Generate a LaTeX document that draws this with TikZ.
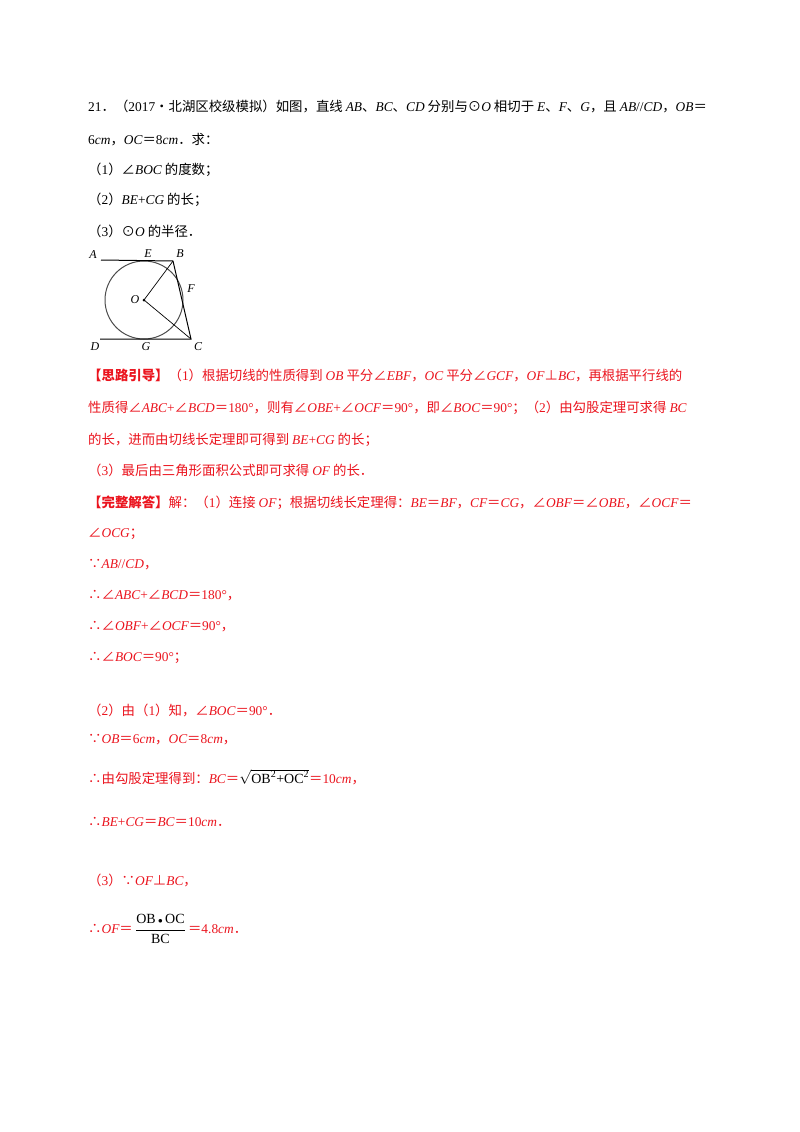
\documentclass[tikz,border=0pt]{standalone}
\usepackage{fontspec}
\setmainfont{Noto Sans CJK SC}
\newfontfamily\lser{Liberation Serif}
\newcommand\vv[1]{{\lser\itshape #1}}
\newcommand\nn[1]{{\lser #1}}
\newcommand\mm[1]{\text{\lser\fontsize{14}{16}\selectfont #1}}
\newcommand\ms[1]{\text{\lser\fontsize{10}{12}\selectfont #1}}
\usepackage{amsmath}
\definecolor{myred}{RGB}{235,20,30}
\begin{document}
\begin{tikzpicture}[x=1pt,y=-1pt,
  t/.style={anchor=west,inner sep=0,font=\fontsize{13.4}{15}\selectfont},
  r/.style={t,text=myred},
  lab/.style={inner sep=0,font=\lser\itshape\fontsize{12}{14}\selectfont}]
\useasboundingbox[fill=white] (0,0) rectangle (800,1132);
\node[t] (l1) at (88,106) {\nn{21}．（\nn{2017}•北湖区校级模拟）如图，直线 \vv{AB}、\vv{BC}、\vv{CD} 分别与⊙\vv{O} 相切于 \vv{E}、\vv{F}、\vv{G}，且 \vv{AB}\nn{//}\vv{CD}，\vv{OB}＝};
\node[t] (l2) at (88,140) {\nn{6}\vv{cm}，\vv{OC}＝\nn{8}\vv{cm}．求：};
\node[t] (l3) at (88,170) {（\nn{1}）∠\vv{BOC} 的度数；};
\node[t] (l4) at (88,200) {（\nn{2}）\vv{BE}\nn{+}\vv{CG} 的长；};
\node[t] (l5) at (88,231) {（\nn{3}）⊙\vv{O} 的半径．};
% figure
\coordinate (O) at (144,300);
\coordinate (B) at (173,261);
\coordinate (C) at (191,339);
\coordinate (A) at (101,260);
\coordinate (D) at (100,339);
\draw[line width=1pt,gray!60!black] (O) circle (39);
\draw[line width=1pt] (A) -- (B) -- (C) -- (D);
\draw[line width=0.7pt] (B) -- (O) -- (C);
\fill (O) circle (1.5);
\node[lab] (la) at (93,255) {A};
\node[lab] (le) at (148,254) {E};
\node[lab] (lb) at (180,254) {B};
\node[lab] (lf) at (191,289) {F};
\node[lab] (lo) at (135,300) {O};
\node[lab] (ld) at (95,347) {D};
\node[lab] (lg) at (146,347) {G};
\node[lab] (lc) at (198,347) {C};
% red solution
\node[r] (s1) at (88,375) {\textbf{【思路引导】}（\nn{1}）根据切线的性质得到 \vv{OB} 平分∠\vv{EBF}，\vv{OC} 平分∠\vv{GCF}，\vv{OF}⊥\vv{BC}，再根据平行线的};
\node[r] (s2) at (88,408) {性质得∠\vv{ABC}\nn{+}∠\vv{BCD}＝\nn{180°}，则有∠\vv{OBE}\nn{+}∠\vv{OCF}＝\nn{90°}，即∠\vv{BOC}＝\nn{90°}；（\nn{2}）由勾股定理可求得 \vv{BC}};
\node[r] (s3) at (88,440) {的长，进而由切线长定理即可得到 \vv{BE}\nn{+}\vv{CG} 的长；};
\node[r] (s4) at (88,470) {（\nn{3}）最后由三角形面积公式即可求得 \vv{OF} 的长．};
\node[r] (s5) at (88,503) {\textbf{【完整解答】}解：（\nn{1}）连接 \vv{OF}；根据切线长定理得：\vv{BE}＝\vv{BF}，\vv{CF}＝\vv{CG}，∠\vv{OBF}＝∠\vv{OBE}，∠\vv{OCF}＝};
\node[r] (s6) at (88,534) {∠\vv{OCG}；};
\node[r] (s7) at (88,565) {∵\vv{AB}\nn{//}\vv{CD}，};
\node[r] (s8) at (88,596) {∴∠\vv{ABC}\nn{+}∠\vv{BCD}＝\nn{180°}，};
\node[r] (s9) at (88,627) {∴∠\vv{OBF}\nn{+}∠\vv{OCF}＝\nn{90°}，};
\node[r] (s10) at (88,658) {∴∠\vv{BOC}＝\nn{90°}；};
\node[r] (s11) at (88,710) {（\nn{2}）由（\nn{1}）知，∠\vv{BOC}＝\nn{90°}．};
\node[r] (s12) at (88,740) {∵\vv{OB}＝\nn{6}\vv{cm}，\vv{OC}＝\nn{8}\vv{cm}，};
\node[r] (s13) at (88,777) {∴由勾股定理得到：\vv{BC}＝\textcolor{black}{$\sqrt{\mm{OB}^{\ms{2}}\mm{+OC}^{\ms{2}}}$}＝\nn{10}\vv{cm}，};
\node[r] (s14) at (88,822) {∴\vv{BE}\nn{+}\vv{CG}＝\vv{BC}＝\nn{10}\vv{cm}．};
\node[r] (s15) at (88,880) {（\nn{3}）∵\vv{OF}⊥\vv{BC}，};
\node[r] (s16) at (88,929) {∴\vv{OF}＝\,\textcolor{black}{$\displaystyle\frac{\mm{OB}\,{\scriptstyle\bullet}\,\mm{OC}}{\mm{BC}}$}\,＝\nn{4.8}\vv{cm}．};
\end{tikzpicture}
\end{document}
